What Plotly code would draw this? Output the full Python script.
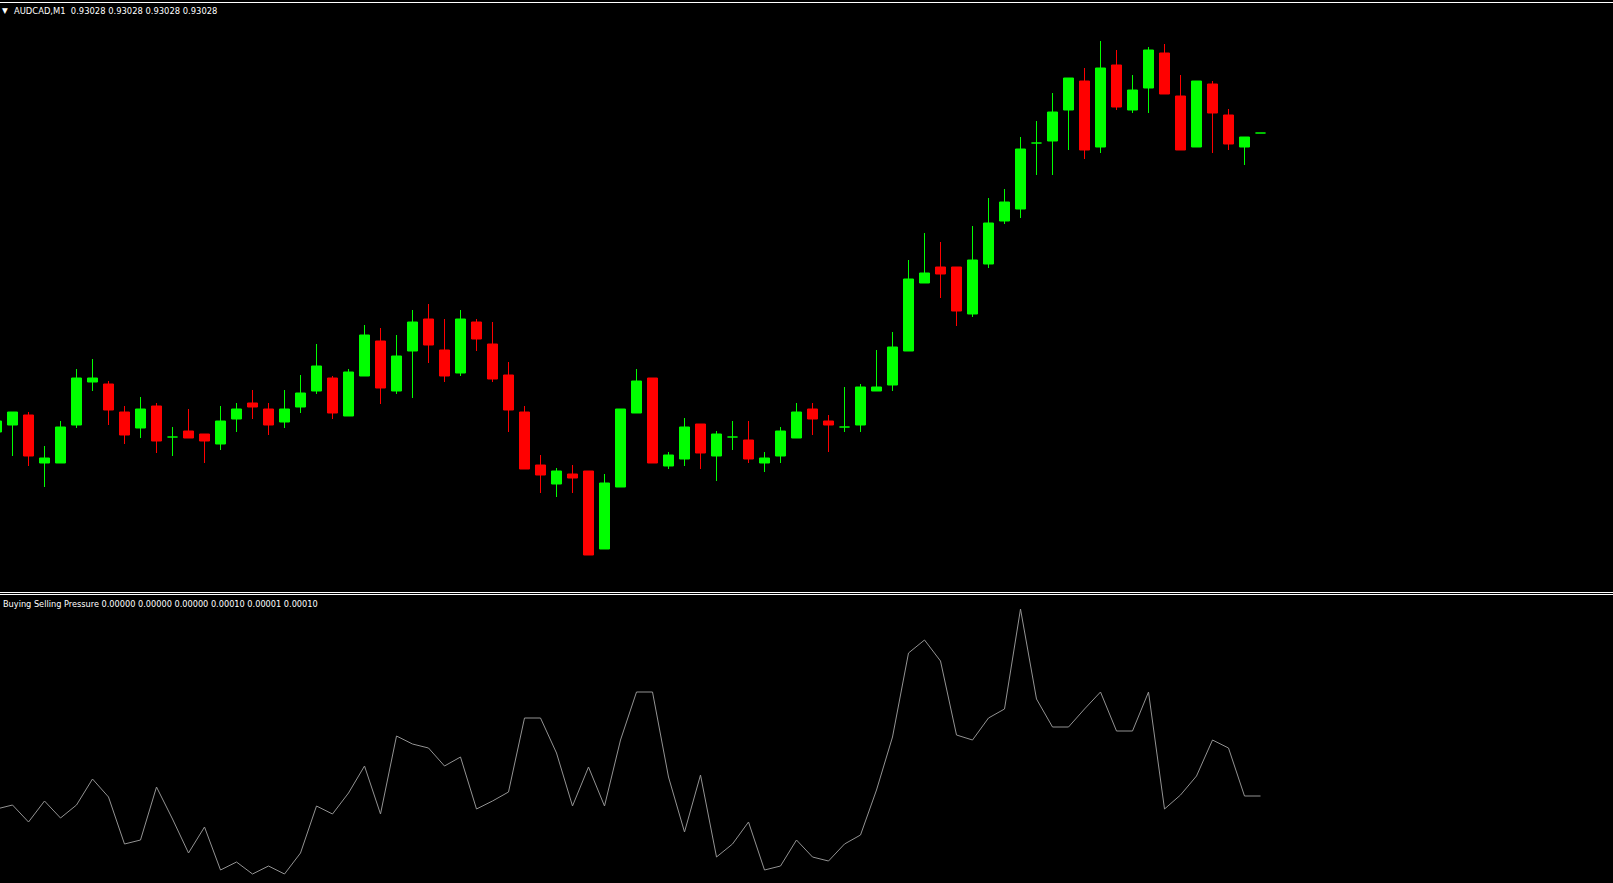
import plotly.graph_objects as go

# ---- data (AUDCAD, M1) ----
bars = list(range(-1, 79))  # bar index, left to right

opens = [0.92729, 0.92736, 0.92746, 0.92698, 0.92698, 0.92736, 0.92779, 0.92777, 0.92749, 0.92733,
         0.92755, 0.92724, 0.92730, 0.92727, 0.92717, 0.92742, 0.92758, 0.92752, 0.92739, 0.92754,
         0.92770, 0.92783, 0.92745, 0.92785, 0.92820, 0.92770, 0.92810, 0.92842, 0.92811, 0.92788,
         0.92839, 0.92817, 0.92786, 0.92749, 0.92696, 0.92677, 0.92687, 0.92690, 0.92612, 0.92674,
         0.92748, 0.92783, 0.92695, 0.92702, 0.92737, 0.92705, 0.92724, 0.92721, 0.92698, 0.92705,
         0.92723, 0.92752, 0.92740, 0.92734, 0.92736, 0.92770, 0.92776, 0.92810, 0.92878, 0.92894,
         0.92894, 0.92847, 0.92897, 0.92940, 0.92952, 0.93018, 0.93020, 0.93051, 0.93080, 0.93014,
         0.93096, 0.93051, 0.93073, 0.93108, 0.93065, 0.93014, 0.93077, 0.93046, 0.93014, 0.93028]
highs = [0.92742, 0.92749, 0.92749, 0.92715, 0.92740, 0.92792, 0.92802, 0.92780, 0.92755, 0.92764,
         0.92758, 0.92734, 0.92752, 0.92727, 0.92755, 0.92758, 0.92771, 0.92758, 0.92771, 0.92786,
         0.92817, 0.92785, 0.92792, 0.92836, 0.92833, 0.92826, 0.92851, 0.92857, 0.92842, 0.92851,
         0.92842, 0.92839, 0.92799, 0.92755, 0.92706, 0.92693, 0.92696, 0.92690, 0.92687, 0.92752,
         0.92792, 0.92783, 0.92709, 0.92743, 0.92737, 0.92730, 0.92740, 0.92740, 0.92709, 0.92734,
         0.92758, 0.92758, 0.92746, 0.92774, 0.92777, 0.92811, 0.92829, 0.92901, 0.92928, 0.92919,
         0.92894, 0.92935, 0.92963, 0.92972, 0.93024, 0.93040, 0.93068, 0.93083, 0.93093, 0.93120,
         0.93111, 0.93086, 0.93114, 0.93117, 0.93086, 0.93080, 0.93080, 0.93052, 0.93024, 0.93028]
lows = [0.92727, 0.92705, 0.92695, 0.92674, 0.92698, 0.92733, 0.92770, 0.92736, 0.92717, 0.92723,
        0.92708, 0.92705, 0.92723, 0.92698, 0.92711, 0.92729, 0.92742, 0.92726, 0.92733, 0.92748,
        0.92767, 0.92742, 0.92745, 0.92785, 0.92757, 0.92767, 0.92763, 0.92798, 0.92779, 0.92785,
        0.92810, 0.92779, 0.92729, 0.92692, 0.92668, 0.92664, 0.92668, 0.92606, 0.92612, 0.92674,
        0.92748, 0.92698, 0.92692, 0.92695, 0.92692, 0.92680, 0.92711, 0.92698, 0.92689, 0.92698,
        0.92723, 0.92726, 0.92709, 0.92729, 0.92729, 0.92770, 0.92770, 0.92810, 0.92878, 0.92863,
        0.92835, 0.92844, 0.92893, 0.92937, 0.92943, 0.92986, 0.92986, 0.93011, 0.93002, 0.93008,
        0.93051, 0.93048, 0.93048, 0.93067, 0.93011, 0.93014, 0.93008, 0.93011, 0.92996, 0.93028]
closes = [0.92740, 0.92749, 0.92705, 0.92703, 0.92734, 0.92783, 0.92783, 0.92751, 0.92726, 0.92752,
          0.92720, 0.92724, 0.92723, 0.92720, 0.92740, 0.92752, 0.92754, 0.92736, 0.92752, 0.92768,
          0.92795, 0.92748, 0.92789, 0.92826, 0.92773, 0.92805, 0.92839, 0.92816, 0.92785, 0.92842,
          0.92822, 0.92782, 0.92751, 0.92692, 0.92686, 0.92690, 0.92683, 0.92606, 0.92678, 0.92752,
          0.92780, 0.92698, 0.92706, 0.92734, 0.92708, 0.92727, 0.92724, 0.92702, 0.92703, 0.92730,
          0.92749, 0.92742, 0.92736, 0.92734, 0.92774, 0.92774, 0.92814, 0.92882, 0.92888, 0.92887,
          0.92850, 0.92901, 0.92938, 0.92959, 0.93012, 0.93018, 0.93049, 0.93083, 0.93011, 0.93093,
          0.93054, 0.93071, 0.93111, 0.93067, 0.93011, 0.93080, 0.93048, 0.93017, 0.93024, 0.93028]

# Buying Selling Pressure indicator (units of 1e-6)
bsp = [74, 78, 61, 82, 65, 78, 104, 86, 39, 43,
       96, 64, 30, 56, 13, 21, 9, 17, 9, 30,
       77, 69, 90, 117, 69, 147, 139, 135, 117, 126,
       74, 82, 91, 165, 165, 130, 77, 116, 77, 143,
       191, 191, 106, 51, 108, 26, 39, 61, 13, 17,
       43, 26, 22, 39, 48, 93, 146, 230, 243, 222,
       148, 143, 165, 174, 274, 184, 156, 156, 174, 191,
       152, 152, 191, 74, 88, 107, 143, 135, 87, 87]

symbol_text = "AUDCAD,M1\u00a0\u00a00.93028 0.93028 0.93028 0.93028"
ind_text = "Buying Selling Pressure 0.00000 0.00000 0.00000 0.00010 0.00001 0.00010"

UP = "#00ff00"
DN = "#ff0000"

W, H = 1613, 883
BAR_PX = 16.0

# ---- build marks ----
body_base, body_len, body_col = [], [], []
wx_up, wy_up, wx_dn, wy_dn = [], [], [], []
for i, o, h, l, c in zip(bars, opens, highs, lows, closes):
    up = c >= o
    body_base.append(min(o, c))
    body_len.append(max(abs(c - o), 1e-9))
    body_col.append(UP if up else DN)
    if up:
        wx_up += [i, i, None]; wy_up += [l, h, None]
    else:
        wx_dn += [i, i, None]; wy_dn += [l, h, None]

fig = go.Figure()
fig.add_trace(go.Scatter(x=wx_up, y=wy_up, mode="lines", line=dict(color=UP, width=1),
                         hoverinfo="skip", yaxis="y"))
fig.add_trace(go.Scatter(x=wx_dn, y=wy_dn, mode="lines", line=dict(color=DN, width=1),
                         hoverinfo="skip", yaxis="y"))
fig.add_trace(go.Bar(x=bars, y=body_len, base=body_base, width=10 / BAR_PX,
                     marker=dict(color=body_col, line=dict(color=body_col, width=1)),
                     yaxis="y", hoverinfo="skip"))
fig.add_trace(go.Scatter(x=bars, y=bsp, mode="lines", line=dict(color="#929292", width=1),
                         yaxis="y2", hoverinfo="skip"))

# axis geometry (pixels from top)
price_top_px, price_bot_px = 3, 591
ind_top_px = 596
x0 = -12.5 / BAR_PX
fig.update_layout(
    width=W, height=H,
    margin=dict(l=0, r=0, t=0, b=0, pad=0),
    paper_bgcolor="black", plot_bgcolor="black",
    showlegend=False, barmode="overlay",
    xaxis=dict(visible=False, range=[x0, x0 + W / BAR_PX], domain=[0, 1], fixedrange=True),
    yaxis=dict(visible=False, domain=[(H - price_bot_px) / H, (H - price_top_px) / H],
               range=[0.92570, 0.93158], fixedrange=True),
    yaxis2=dict(visible=False, domain=[0, (H - ind_top_px) / H], range=[0, H - ind_top_px],
                anchor="x", fixedrange=True),
    shapes=[
        dict(type="line", xref="paper", yref="paper", x0=0, x1=1,
             y0=1 - 2.5 / H, y1=1 - 2.5 / H, line=dict(color="white", width=1)),
        dict(type="line", xref="paper", yref="paper", x0=0, x1=1,
             y0=1 - 592.5 / H, y1=1 - 592.5 / H, line=dict(color="white", width=1)),
        dict(type="line", xref="paper", yref="paper", x0=0, x1=1,
             y0=1 - 594.5 / H, y1=1 - 594.5 / H, line=dict(color="white", width=1)),
    ],
    annotations=[
        dict(text="\u25bc", xref="paper", yref="paper", x=0, y=1 - 10.5 / H,
             xanchor="left", yanchor="middle", showarrow=False,
             font=dict(family="DejaVu Sans", size=7.5, color="white")),
        dict(text=symbol_text, xref="paper", yref="paper", x=11.5 / W, y=1 - 10.5 / H,
             xanchor="left", yanchor="middle", showarrow=False,
             font=dict(family="DejaVu Sans", size=8.4, color="white")),
        dict(text=ind_text, xref="paper", yref="paper", x=0.5 / W, y=1 - 603.5 / H,
             xanchor="left", yanchor="middle", showarrow=False,
             font=dict(family="DejaVu Sans", size=8.2, color="white")),
    ],
)

fig.write_html("out.html", config={"displayModeBar": False},
               post_script="document.body.style.margin='0';document.body.style.overflow='hidden';")
